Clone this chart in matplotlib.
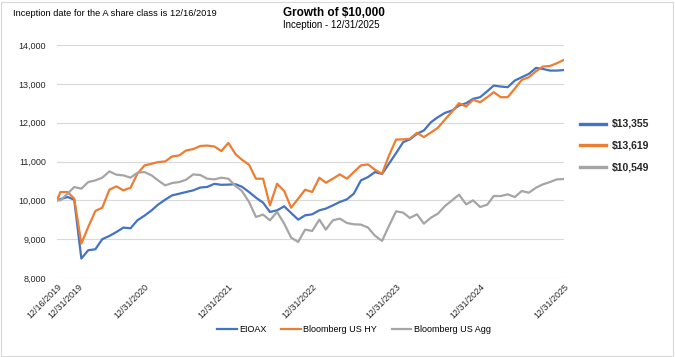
import matplotlib
matplotlib.use("Agg")
import matplotlib.pyplot as plt
import matplotlib.transforms as mtransforms
from matplotlib.lines import Line2D
from matplotlib.patches import Rectangle
from matplotlib.ticker import FuncFormatter
import pandas as pd

plt.rcParams['font.family'] = ['Liberation Sans', 'DejaVu Sans']

# ---------------- data ----------------
dates = [pd.Timestamp('2019-12-16')] + list(
    pd.date_range('2019-12-31', periods=73, freq=pd.offsets.MonthEnd()))

eioax = [10000, 10030, 10086, 10017, 8500, 8715, 8740, 9000, 9083, 9186,
         9298, 9280, 9486, 9606, 9743, 9889, 10017, 10128, 10171, 10214,
         10257, 10330, 10345, 10425, 10400, 10405, 10415, 10350, 10214, 10069,
         9940, 9700, 9743, 9846, 9674, 9503, 9614, 9640, 9743, 9786,
         9871, 9957, 10026, 10171, 10514, 10600, 10728, 10680, 10942, 11216,
         11499, 11568, 11713, 11799, 12013, 12141, 12253, 12313, 12442, 12501,
         12613, 12656, 12810, 12955, 12930, 12913, 13085, 13170, 13256, 13410,
         13384, 13341, 13341, 13355]

us_hy = [10000, 10214, 10214, 10043, 8886, 9314, 9726, 9811, 10274, 10360,
         10257, 10325, 10685, 10900, 10942, 10985, 11002, 11131, 11157, 11285,
         11319, 11400, 11410, 11388, 11268, 11478, 11190, 11045, 10917, 10557,
         10557, 9871, 10428, 10240, 9811, 10043, 10274, 10214, 10583, 10454,
         10557, 10668, 10557, 10728, 10900, 10925, 10788, 10685, 11150, 11565,
         11570, 11585, 11739, 11628, 11748, 11868, 12080, 12287, 12501, 12416,
         12588, 12527, 12656, 12784, 12656, 12656, 12878, 13101, 13170, 13324,
         13444, 13461, 13530, 13619]

us_agg = [10000, 10000, 10171, 10343, 10300, 10471, 10514, 10583, 10745, 10660,
          10642, 10583, 10711, 10728, 10642, 10514, 10385, 10446, 10471, 10531,
          10668, 10651, 10557, 10540, 10583, 10557, 10370, 10240, 9957, 9572,
          9632, 9486, 9700, 9400, 9040, 8929, 9246, 9211, 9503, 9246,
          9486, 9529, 9417, 9383, 9375, 9298, 9090, 8954, 9340, 9717,
          9683, 9546, 9640, 9400, 9554, 9657, 9854, 10000, 10146, 9897,
          10000, 9828, 9889, 10111, 10111, 10154, 10086, 10240, 10197, 10325,
          10411, 10471, 10540, 10549]

series_names = ['EIOAX', 'Bloomberg US HY', 'Bloomberg US Agg']
series_colors = ['#4472C4', '#ED7D31', '#A5A5A5']

tick_dates = ['2019-12-16', '2019-12-31', '2020-12-31', '2021-12-31',
              '2022-12-31', '2023-12-31', '2024-12-31', '2025-12-31']
tick_labels = ['12/16/2019', '12/31/2019', '12/31/2020', '12/31/2021',
               '12/31/2022', '12/31/2023', '12/31/2024', '12/31/2025']

title = 'Growth of \\$10,000'
subtitle = 'Inception - 12/31/2025'
note = 'Inception date for the A share class is 12/16/2019'

# ---------------- figure ----------------
W, H = 675, 357
fig = plt.figure(figsize=(W / 100, H / 100), dpi=100)
fig.patch.set_facecolor('white')

ax = fig.add_axes([57 / W, 1 - 278 / H, (564 - 57) / W, (278 - 45) / H])

all_series = [eioax, us_hy, us_agg]
for vals, name, col in zip(all_series, series_names, series_colors):
    ax.plot(dates, vals, color=col, lw=1.6, label=name,
            solid_joinstyle='round', solid_capstyle='round')

ax.set_ylim(8000, 14000)
ax.set_yticks(range(8000, 14001, 1000))
ax.yaxis.set_major_formatter(FuncFormatter(lambda v, p: f'{v:,.0f}'))
ax.set_xlim(dates[0], dates[-1])
ax.grid(axis='y', color='#d9d9d9', lw=0.8)
ax.set_axisbelow(True)
for s in ax.spines.values():
    s.set_visible(False)

ax.set_xticks([pd.Timestamp(d) for d in tick_dates])
ax.set_xticklabels(tick_labels)
ax.tick_params(axis='y', length=0, pad=8, labelsize=6.5, labelcolor='#262626')
ax.tick_params(axis='x', length=0, pad=3, labelsize=6.5, labelcolor='#262626')
xl = ax.get_xticklabels()
for lab in xl:
    lab.set_rotation(45)
    lab.set_ha('right')
    lab.set_rotation_mode('anchor')
# second label is shifted so it does not overlap the first one
xl[1].set_transform(xl[1].get_transform() +
                    mtransforms.ScaledTranslation(18 / 100, 0, fig.dpi_scale_trans))

# titles and note
fig.text(334 / W, 1 - 13 / H, title, ha='center', va='center',
         fontsize=8.5, fontweight='bold', color='#000000')
fig.text(331 / W, 1 - 25.5 / H, subtitle, ha='center', va='center',
         fontsize=7, color='#000000')
fig.text(13 / W, 1 - 14 / H, note, ha='left', va='center',
         fontsize=6.7, color='#000000')

# bottom legend
handles = [Line2D([], [], color=c, lw=1.6) for c in series_colors]
fig.legend(handles, series_names, loc='center', bbox_to_anchor=(354 / W, 1 - 330 / H),
           ncol=3, frameon=False, fontsize=6.5, handlelength=2.2,
           handletextpad=0.25, columnspacing=1.6)

# right-side ending values
right_y = [124, 145, 167]
for vals, col, yy in zip(all_series, series_colors, right_y):
    fig.add_artist(Line2D([580 / W, 606 / W], [1 - yy / H, 1 - yy / H],
                          color=col, lw=2.4, transform=fig.transFigure))
    fig.text(612 / W, 1 - yy / H, f'\\${vals[-1]:,.0f}', ha='left', va='center',
             fontsize=7.5, fontweight='bold', color='#262626')

# chart border
fig.add_artist(Rectangle((1 / W, 1 / H), (W - 3) / W, (H - 3) / H,
                         transform=fig.transFigure, fill=False,
                         edgecolor='#d9d9d9', lw=0.8))

fig.savefig('out.png', dpi=100)
